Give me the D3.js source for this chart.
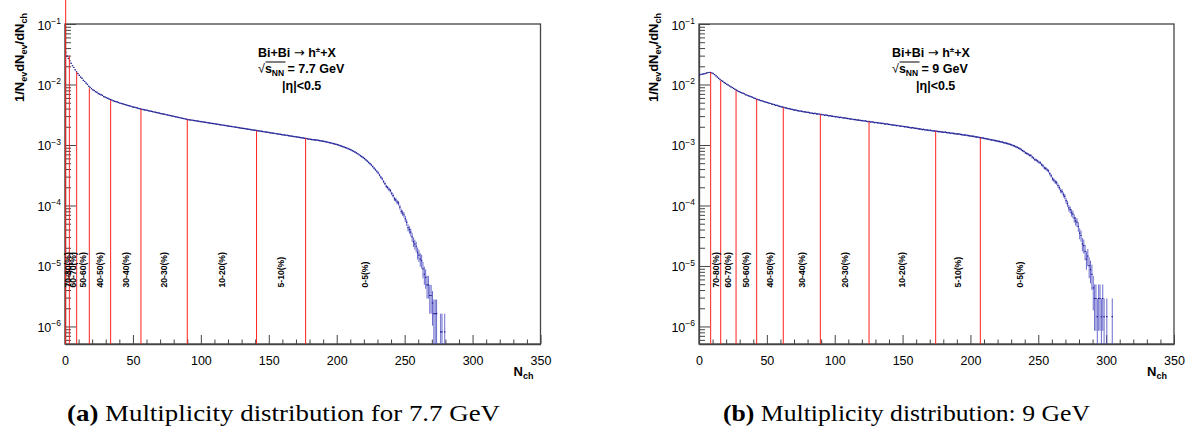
<!DOCTYPE html>
<html>
<head>
<meta charset="utf-8">
<script src="https://cdn.jsdelivr.net/npm/d3@7"></script>
<style>
  body { margin: 0; background: #fff; }
  svg { display: block; }
  text { font-family: "Liberation Sans", Arial, Helvetica, sans-serif; }
</style>
</head>
<body>
<svg id="chart" width="1195" height="429"></svg>
<script>
// ---- x axis ----
const nchMajorTicks = [0, 50, 100, 150, 200, 250, 300, 350];
const nchMinorTicks = d3.range(0, 351, 10);

// ---- y axis decades ----
const decadeExponents = [-1, -2, -3, -4, -5, -6];

// ---- 1/N_ev dN_ev/dN_ch, unit bins starting at N_ch = 0 ----
const dens77 = [
  3.39e-2, 2.95e-2, 2.69e-2, 2.45e-2, 2.24e-2, 2.04e-2, 1.91e-2, 1.74e-2, 1.62e-2, 1.51e-2,
  1.41e-2, 1.32e-2, 1.26e-2, 1.17e-2, 1.12e-2, 1.05e-2, 1.00e-2, 9.33e-3, 8.91e-3, 8.51e-3,
  8.13e-3, 7.94e-3, 7.59e-3, 7.41e-3, 7.08e-3, 6.92e-3, 6.76e-3, 6.61e-3, 6.31e-3, 6.17e-3,
  6.03e-3, 5.89e-3, 5.75e-3, 5.62e-3, 5.50e-3, 5.37e-3, 5.25e-3, 5.19e-3, 5.13e-3, 5.01e-3,
  4.90e-3, 4.84e-3, 4.79e-3, 4.68e-3, 4.62e-3, 4.57e-3, 4.47e-3, 4.42e-3, 4.37e-3, 4.27e-3,
  4.22e-3, 4.17e-3, 4.12e-3, 4.07e-3, 3.98e-3, 3.94e-3, 3.89e-3, 3.85e-3, 3.80e-3, 3.76e-3,
  3.72e-3, 3.67e-3, 3.63e-3, 3.59e-3, 3.55e-3, 3.51e-3, 3.47e-3, 3.43e-3, 3.39e-3, 3.35e-3,
  3.31e-3, 3.27e-3, 3.24e-3, 3.20e-3, 3.16e-3, 3.13e-3, 3.09e-3, 3.05e-3, 3.02e-3, 2.99e-3,
  2.95e-3, 2.92e-3, 2.88e-3, 2.85e-3, 2.82e-3, 2.79e-3, 2.75e-3, 2.72e-3, 2.69e-3, 2.66e-3,
  2.63e-3, 2.608e-3, 2.587e-3, 2.565e-3, 2.544e-3, 2.523e-3, 2.502e-3, 2.482e-3, 2.461e-3, 2.441e-3,
  2.421e-3, 2.401e-3, 2.381e-3, 2.361e-3, 2.342e-3, 2.322e-3, 2.303e-3, 2.284e-3, 2.265e-3, 2.247e-3,
  2.228e-3, 2.210e-3, 2.192e-3, 2.174e-3, 2.156e-3, 2.138e-3, 2.120e-3, 2.103e-3, 2.085e-3, 2.068e-3,
  2.051e-3, 2.034e-3, 2.017e-3, 2.001e-3, 1.984e-3, 1.968e-3, 1.952e-3, 1.936e-3, 1.920e-3, 1.904e-3,
  1.888e-3, 1.873e-3, 1.857e-3, 1.842e-3, 1.827e-3, 1.812e-3, 1.797e-3, 1.782e-3, 1.767e-3, 1.753e-3,
  1.738e-3, 1.724e-3, 1.710e-3, 1.696e-3, 1.682e-3, 1.668e-3, 1.654e-3, 1.640e-3, 1.627e-3, 1.613e-3,
  1.600e-3, 1.587e-3, 1.574e-3, 1.561e-3, 1.548e-3, 1.535e-3, 1.522e-3, 1.510e-3, 1.497e-3, 1.485e-3,
  1.473e-3, 1.461e-3, 1.449e-3, 1.437e-3, 1.425e-3, 1.413e-3, 1.401e-3, 1.390e-3, 1.378e-3, 1.367e-3,
  1.356e-3, 1.345e-3, 1.334e-3, 1.323e-3, 1.312e-3, 1.301e-3, 1.290e-3, 1.280e-3, 1.265e-3, 1.253e-3,
  1.242e-3, 1.230e-3, 1.222e-3, 1.213e-3, 1.208e-3, 1.202e-3, 1.191e-3, 1.180e-3, 1.169e-3, 1.159e-3,
  1.148e-3, 1.135e-3, 1.122e-3, 1.109e-3, 1.096e-3, 1.084e-3, 1.069e-3, 1.054e-3, 1.040e-3, 1.026e-3,
  1.012e-3, 9.93e-4, 9.75e-4, 9.57e-4, 9.40e-4, 9.23e-4, 9.04e-4, 8.85e-4, 8.67e-4, 8.49e-4,
  8.32e-4, 8.07e-4, 7.83e-4, 7.60e-4, 7.38e-4, 7.16e-4, 6.90e-4, 6.65e-4, 6.41e-4, 6.18e-4,
  5.96e-4, 5.68e-4, 5.41e-4, 5.15e-4, 4.91e-4, 4.68e-4, 4.41e-4, 4.15e-4, 3.91e-4, 3.68e-4,
  3.47e-4, 3.19e-4, 2.94e-4, 2.76e-4, 2.49e-4, 2.29e-4, 2.07e-4, 1.98e-4, 1.84e-4, 1.76e-4,
  1.58e-4, 1.46e-4, 1.29e-4, 1.24e-4, 1.14e-4, 1.09e-4, 9.38e-5, 8.01e-5, 7.52e-5, 7.02e-5,
  6.03e-5, 5.25e-5, 4.31e-5, 3.98e-5, 3.62e-5, 3.02e-5, 2.51e-5, 2.29e-5, 2.10e-5, 1.65e-5,
  1.51e-5, 1.30e-5, 1.22e-5, 8.94e-6, 7.32e-6, 6.50e-6, 4.88e-6, 4.88e-6, 3.25e-6, 3.25e-6,
  2.44e-6, 1.63e-6, 1.63e-6, 1.63e-6, 0, 0, 8.13e-7, 8.13e-7, 0, 8.13e-7
];

const dens9 = [
  1.445e-2, 1.462e-2, 1.479e-2, 1.493e-2, 1.514e-2, 1.542e-2, 1.563e-2, 1.578e-2, 1.574e-2, 1.549e-2,
  1.514e-2, 1.452e-2, 1.387e-2, 1.324e-2, 1.265e-2, 1.208e-2, 1.161e-2, 1.122e-2, 1.076e-2, 1.042e-2,
  1.005e-2, 9.73e-3, 9.44e-3, 9.16e-3, 8.87e-3, 8.59e-3, 8.32e-3, 8.04e-3, 7.82e-3, 7.62e-3,
  7.41e-3, 7.28e-3, 7.11e-3, 6.97e-3, 6.76e-3, 6.64e-3, 6.49e-3, 6.38e-3, 6.22e-3, 6.12e-3,
  5.94e-3, 5.86e-3, 5.69e-3, 5.62e-3, 5.52e-3, 5.42e-3, 5.35e-3, 5.24e-3, 5.16e-3, 5.06e-3,
  5.01e-3, 4.91e-3, 4.85e-3, 4.75e-3, 4.69e-3, 4.63e-3, 4.52e-3, 4.50e-3, 4.39e-3, 4.35e-3,
  4.27e-3, 4.24e-3, 4.17e-3, 4.10e-3, 4.08e-3, 4.00e-3, 3.98e-3, 3.90e-3, 3.88e-3, 3.82e-3,
  3.77e-3, 3.76e-3, 3.69e-3, 3.67e-3, 3.61e-3, 3.63e-3, 3.56e-3, 3.53e-3, 3.51e-3, 3.45e-3,
  3.45e-3, 3.39e-3, 3.38e-3, 3.34e-3, 3.31e-3, 3.33e-3, 3.26e-3, 3.24e-3, 3.25e-3, 3.19e-3,
  3.18e-3, 3.16e-3, 3.10e-3, 3.12e-3, 3.08e-3, 3.03e-3, 3.05e-3, 2.99e-3, 2.98e-3, 2.96e-3,
  2.92e-3, 2.93e-3, 2.88e-3, 2.84e-3, 2.86e-3, 2.82e-3, 2.79e-3, 2.80e-3, 2.75e-3, 2.74e-3,
  2.72e-3, 2.68e-3, 2.69e-3, 2.64e-3, 2.63e-3, 2.62e-3, 2.58e-3, 2.585e-3, 2.55e-3, 2.52e-3,
  2.53e-3, 2.49e-3, 2.495e-3, 2.455e-3, 2.44e-3, 2.438e-3, 2.40e-3, 2.41e-3, 2.37e-3, 2.35e-3,
  2.355e-3, 2.32e-3, 2.31e-3, 2.30e-3, 2.265e-3, 2.275e-3, 2.24e-3, 2.22e-3, 2.23e-3, 2.19e-3,
  2.18e-3, 2.17e-3, 2.13e-3, 2.14e-3, 2.11e-3, 2.09e-3, 2.10e-3, 2.06e-3, 2.05e-3, 2.04e-3,
  2.02e-3, 2.00e-3, 2.005e-3, 1.97e-3, 1.96e-3, 1.94e-3, 1.92e-3, 1.93e-3, 1.90e-3, 1.88e-3,
  1.878e-3, 1.85e-3, 1.845e-3, 1.83e-3, 1.80e-3, 1.81e-3, 1.78e-3, 1.77e-3, 1.76e-3, 1.74e-3,
  1.745e-3, 1.72e-3, 1.715e-3, 1.70e-3, 1.69e-3, 1.68e-3, 1.66e-3, 1.667e-3, 1.644e-3, 1.637e-3,
  1.622e-3, 1.629e-3, 1.603e-3, 1.596e-3, 1.585e-3, 1.563e-3, 1.570e-3, 1.549e-3, 1.542e-3, 1.531e-3,
  1.514e-3, 1.521e-3, 1.493e-3, 1.486e-3, 1.472e-3, 1.459e-3, 1.462e-3, 1.439e-3, 1.429e-3, 1.419e-3,
  1.406e-3, 1.393e-3, 1.387e-3, 1.365e-3, 1.355e-3, 1.349e-3, 1.330e-3, 1.318e-3, 1.309e-3, 1.297e-3,
  1.279e-3, 1.271e-3, 1.253e-3, 1.245e-3, 1.230e-3, 1.213e-3, 1.208e-3, 1.189e-3, 1.178e-3, 1.167e-3,
  1.148e-3, 1.143e-3, 1.122e-3, 1.114e-3, 1.096e-3, 1.081e-3, 1.067e-3, 1.057e-3, 1.035e-3, 1.019e-3,
  1.000e-3, 9.77e-4, 9.62e-4, 9.33e-4, 9.16e-4, 8.87e-4, 8.72e-4, 8.36e-4, 8.05e-4, 7.80e-4,
  7.42e-4, 7.24e-4, 7.05e-4, 6.76e-4, 6.72e-4, 6.31e-4, 6.08e-4, 5.71e-4, 5.62e-4, 5.42e-4,
  5.18e-4, 5.08e-4, 4.74e-4, 4.52e-4, 4.18e-4, 4.09e-4, 3.89e-4, 3.72e-4, 3.35e-4, 3.09e-4,
  2.76e-4, 2.63e-4, 2.45e-4, 2.38e-4, 2.14e-4, 1.97e-4, 1.76e-4, 1.70e-4, 1.51e-4, 1.41e-4,
  1.20e-4, 1.07e-4, 9.12e-5, 8.51e-5, 7.59e-5, 7.21e-5, 6.17e-5, 5.56e-5, 5.32e-5, 4.47e-5,
  3.48e-5, 3.19e-5, 2.32e-5, 2.17e-5, 1.74e-5, 1.30e-5, 1.45e-5, 1.01e-5, 8.69e-6, 7.25e-6,
  4.35e-6, 2.90e-6, 2.90e-6, 1.45e-6, 2.90e-6, 2.90e-6, 1.45e-6, 2.90e-6, 1.45e-6, 0,
  1.45e-6, 0, 0, 0, 1.45e-6
];

// number of events behind each distribution (sets the statistical error bars)
const nEvents77 = 1.23e6;
const nEvents9 = 6.9e5;

// ---- centrality classes: N_ch cut positions, curve height at each cut ----
const centralityClasses = ["70-80(%)", "60-70(%)", "50-60(%)", "40-50(%)", "30-40(%)",
                           "20-30(%)", "10-20(%)", "5-10(%)", "0-5(%)"];
const cuts77 = [0.5, 3.2, 8.6, 17.9, 33.6, 55.9, 90.0, 141.0, 177.1];
const cutTops77 = [0.25, 3.0e-2, 1.62e-2, 8.7e-3, 5.5e-3, 3.9e-3, 2.63e-3, 1.72e-3, 1.28e-3];
const nchEnd77 = 265;
const cuts9 = [8.6, 16.0, 27.3, 42.5, 62.1, 89.4, 125.3, 174.4, 207.3];
const cutTops9 = [1.58e-2, 1.15e-2, 7.9e-3, 5.7e-3, 4.17e-3, 3.2e-3, 2.44e-3, 1.69e-3, 1.32e-3];
const nchEnd9 = 266;

const energies = ["7.7", "9"];
const captions = [
  { tag: "(a)", text: " Multiplicity distribution for 7.7 GeV" },
  { tag: "(b)", text: " Multiplicity distribution: 9 GeV" }
];

// ---------------------------------------------------------------------
const svg = d3.select("#chart");
svg.append("rect").attr("width", 1195).attr("height", 429).attr("fill", "#fff");

const yDomain = [5.13e-7, 0.1];
const frameTop = 24, frameBottom = 344;
const HIST = "#1f1f8f", HIST_ERR = "#5050c4", CUT = "#ff2020", AXIS = "#444";
const SERIF = "Liberation Serif, Times New Roman, serif";

function drawPanel(cfg) {
  const x = d3.scaleLinear().domain([0, 350]).range([cfg.x0, cfg.x1]);
  const y = d3.scaleLog().domain(yDomain).range([frameBottom, frameTop]);
  const g = svg.append("g");

  // frame
  g.append("rect")
    .attr("x", cfg.x0).attr("y", frameTop)
    .attr("width", cfg.x1 - cfg.x0).attr("height", frameBottom - frameTop)
    .attr("fill", "none").attr("stroke", AXIS).attr("stroke-width", 1.3);

  // x axis: major and minor ticks pointing into the frame
  const xMinor = d3.axisBottom(x).tickValues(nchMinorTicks.filter(v => v % 50 !== 0))
    .tickSize(-4.5).tickSizeOuter(0).tickFormat("");
  g.append("g").attr("transform", `translate(0,${frameBottom})`).call(xMinor)
    .call(a => a.select(".domain").remove())
    .selectAll("line").attr("stroke", AXIS);
  const xMajor = d3.axisBottom(x).tickValues(nchMajorTicks)
    .tickSize(-9).tickSizeOuter(0).tickPadding(12).tickFormat(d3.format("d"));
  const xa = g.append("g").attr("transform", `translate(0,${frameBottom})`).call(xMajor);
  xa.select(".domain").attr("stroke", AXIS).attr("stroke-width", 1.3);
  xa.selectAll("line").attr("stroke", AXIS);
  xa.selectAll("text").attr("font-size", 12.5).attr("fill", "#000")
    .attr("font-family", "Liberation Sans, Arial, sans-serif");

  // y axis: decades with minor ticks 2..9
  const decades = decadeExponents.map(k => Math.pow(10, k));
  const minors = [];
  decadeExponents.concat([-7]).forEach(k => {
    for (let m = 2; m <= 9; m++) {
      const v = m * Math.pow(10, k);
      if (v > yDomain[0] && v < yDomain[1]) minors.push(v);
    }
  });
  g.append("g").attr("transform", `translate(${cfg.x0},0)`)
    .call(d3.axisLeft(y).tickValues(minors).tickSize(-6).tickSizeOuter(0).tickFormat(""))
    .call(a => a.select(".domain").remove())
    .selectAll("line").attr("stroke", AXIS);
  const ya = g.append("g").attr("transform", `translate(${cfg.x0},0)`)
    .call(d3.axisLeft(y).tickValues(decades).tickSize(-11).tickSizeOuter(0).tickPadding(4).tickFormat(""));
  ya.select(".domain").attr("stroke", AXIS).attr("stroke-width", 1.3);
  ya.selectAll("line").attr("stroke", AXIS);
  ya.selectAll(".tick text").each(function (d) {
    const t = d3.select(this).attr("font-size", 12.5).attr("fill", "#000").attr("dy", "0.4em")
      .attr("font-family", "Liberation Sans, Arial, sans-serif");
    t.append("tspan").text("10");
    t.append("tspan").attr("font-size", 8.5).attr("dy", -5.5)
      .text("\u2212" + Math.round(-Math.log10(d)));
  });

  // histogram points with statistical errors
  const bins = cfg.dens.map((v, i) => ({ i, v })).filter(b => b.v > 0);
  const hg = g.append("g");
  hg.selectAll("line.err").data(bins).join("line").attr("class", "err")
    .attr("x1", b => x(b.i + 0.5)).attr("x2", b => x(b.i + 0.5))
    .attr("y1", b => y(Math.max(b.v - Math.sqrt(b.v / cfg.nEvents), yDomain[0])))
    .attr("y2", b => Math.min(y(b.v + Math.sqrt(b.v / cfg.nEvents)), y(b.v) - 0.8))
    .attr("stroke", HIST_ERR).attr("stroke-width", 1).attr("stroke-opacity", 0.85);
  hg.selectAll("line.bin").data(bins).join("line").attr("class", "bin")
    .attr("x1", b => x(b.i)).attr("x2", b => x(b.i + 1))
    .attr("y1", b => y(b.v)).attr("y2", b => y(b.v))
    .attr("stroke", HIST).attr("stroke-width", 1.2);

  // centrality cut lines
  g.selectAll("line.cut").data(cfg.cuts).join("line").attr("class", "cut")
    .attr("x1", c => x(c)).attr("x2", c => x(c))
    .attr("y1", frameBottom).attr("y2", (c, i) => y(cfg.tops[i]))
    .attr("stroke", CUT).attr("stroke-width", 1);

  // centrality class labels, midway between consecutive cuts
  const edges = cfg.cuts.concat([cfg.end]);
  g.selectAll("text.cls").data(centralityClasses).join("text").attr("class", "cls")
    .attr("transform", (d, i) => `translate(${x((edges[i] + edges[i + 1]) / 2)},287.5) rotate(-90)`)
    .attr("dy", "0.35em")
    .attr("font-size", 8.6).attr("font-weight", "bold").attr("fill", "#000")
    .text(d => d);

  // axis titles
  const yt = g.append("text")
    .attr("transform", `translate(${cfg.x0 - 41},13) rotate(-90)`)
    .attr("text-anchor", "end").attr("font-size", 13).attr("font-weight", "bold");
  [["1/N", 0], ["ev", 1], ["dN", 0], ["ev", 1], ["/dN", 0], ["ch", 1]].forEach(([s, sub], k, arr) => {
    const prevSub = k > 0 && arr[k - 1][1];
    yt.append("tspan").text(s)
      .attr("font-size", sub ? 9 : 13)
      .attr("dy", sub ? 3 : (prevSub ? -3 : 0));
  });
  const xt = g.append("text")
    .attr("x", cfg.x1 - 7).attr("y", 376)
    .attr("text-anchor", "end").attr("font-size", 13).attr("font-weight", "bold");
  xt.append("tspan").text("N");
  xt.append("tspan").text("ch").attr("font-size", 9).attr("dy", 3);

  // reaction label
  const lx = cfg.x0 + 193;
  const l1 = g.append("text").attr("x", lx).attr("y", 57).attr("font-size", 12.5).attr("font-weight", "bold");
  l1.append("tspan").text("Bi+Bi ");
  l1.append("tspan").text("\u2192").attr("font-family", "DejaVu Sans, sans-serif")
    .attr("font-weight", "normal").attr("font-size", 13);
  l1.append("tspan").text(" h");
  l1.append("tspan").text("\u00b1").attr("font-size", 8).attr("dy", -5);
  l1.append("tspan").text("+X").attr("dy", 5);

  const l2 = g.append("text").attr("x", lx).attr("y", 73).attr("font-size", 12.5).attr("font-weight", "bold");
  l2.append("tspan").text("\u221a").attr("font-weight", "normal");
  l2.append("tspan").text("s");
  l2.append("tspan").text("NN").attr("font-size", 8.5).attr("dy", 3);
  l2.append("tspan").text(" = " + cfg.energy + " GeV").attr("dy", -3);
  // overline of the square root
  const rootW = 8.5;
  g.append("line").attr("x1", lx + rootW - 1).attr("x2", lx + rootW + 19)
    .attr("y1", 62).attr("y2", 62).attr("stroke", "#000").attr("stroke-width", 1);

  g.append("text").attr("x", lx + 24).attr("y", 90).attr("font-size", 12.5).attr("font-weight", "bold")
    .text("|\u03b7|<0.5");

  // caption
  const cap = g.append("text").attr("x", cfg.capX).attr("y", 421)
    .attr("font-family", SERIF).attr("font-size", 23)
    .attr("textLength", cfg.capW).attr("lengthAdjust", "spacingAndGlyphs");
  cap.append("tspan").text(cfg.caption.tag).attr("font-weight", "bold").attr("font-family", SERIF);
  cap.append("tspan").text(cfg.caption.text).attr("font-family", SERIF);
}

drawPanel({ x0: 65, x1: 540.5, dens: dens77, nEvents: nEvents77, cuts: cuts77, tops: cutTops77,
            end: nchEnd77, energy: energies[0], caption: captions[0], capX: 67, capW: 433 });
drawPanel({ x0: 699, x1: 1174, dens: dens9, nEvents: nEvents9, cuts: cuts9, tops: cutTops9,
            end: nchEnd9, energy: energies[1], caption: captions[1], capX: 723, capW: 367 });
</script>
</body>
</html>
